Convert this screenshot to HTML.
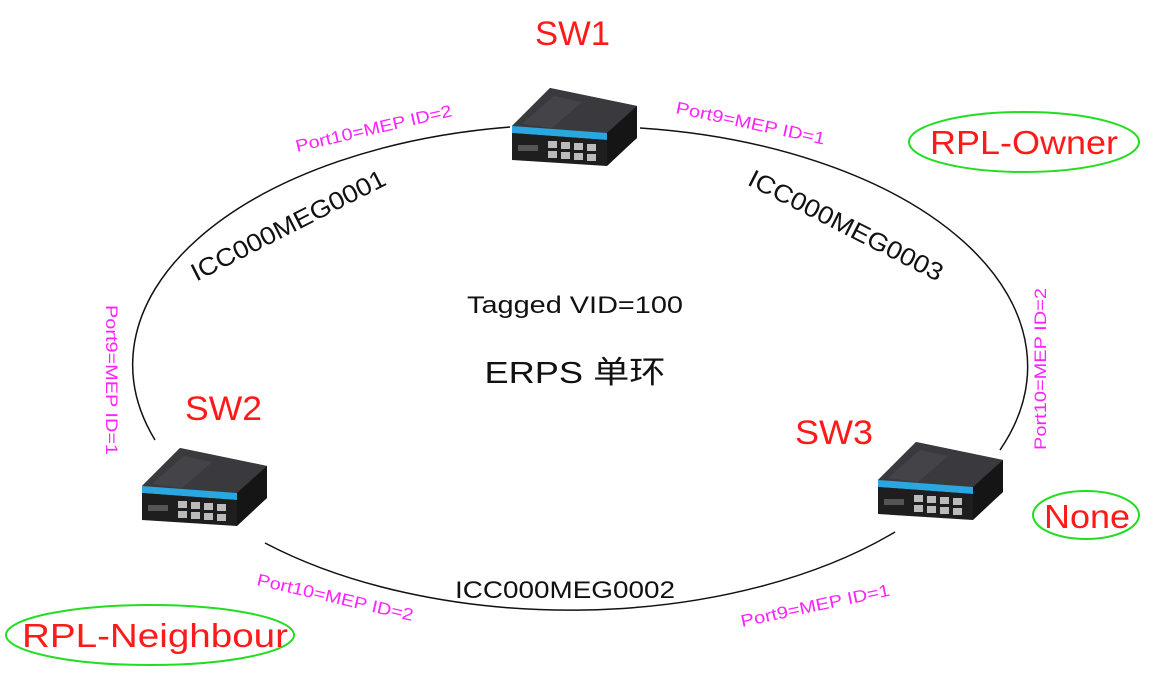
<!DOCTYPE html>
<html><head><meta charset="utf-8"><style>
html,body{margin:0;padding:0;background:#fff;}
body{width:1160px;height:696px;overflow:hidden;position:relative;font-family:"Liberation Sans","Noto Sans CJK SC",sans-serif;}
</style></head><body>
<svg width="1160" height="696" viewBox="0 0 1160 696" xmlns="http://www.w3.org/2000/svg" style="position:absolute;left:0;top:0">
<defs>
<g id="sw">
  <polygon points="0,38 38,0 125,18 125,50 95,76 0,68" fill="#2a2a2a"/>
  <polygon points="0,38 38,0 125,18 95,45" fill="#3a3a3e"/>
  <polygon points="10,36 42,8 70,14 40,40" fill="#4a4a50" opacity="0.6"/>
  <polygon points="0,38 95,45 95,52 0,45" fill="#2aa7e0"/>
  <polygon points="0,45 95,52 95,78 0,72" fill="#1e1e1e"/>
  <polygon points="95,45 125,18 125,50 95,78" fill="#151515"/>
  <g fill="#bbb">
    <rect x="36" y="53" width="9" height="7"/><rect x="49" y="54" width="9" height="7"/><rect x="62" y="55" width="9" height="7"/><rect x="75" y="56" width="9" height="7"/>
    <rect x="36" y="63" width="9" height="7"/><rect x="49" y="64" width="9" height="7"/><rect x="62" y="65" width="9" height="7"/><rect x="75" y="66" width="9" height="7"/>
  </g>
  <rect x="6" y="57" width="20" height="6" fill="#555"/>
</g>
</defs>
<g fill="none" stroke="#111" stroke-width="1.5">
  <path d="M510,127 A440,240 0 0 0 155,440"/>
  <path d="M640,128 A440,240 0 0 1 1000,450"/>
  <path d="M265,543 A440,240 0 0 0 895,532"/>
</g>
<use href="#sw" x="512" y="88"/>
<use href="#sw" x="142" y="448"/>
<use href="#sw" x="878" y="442"/>
<g fill="#ff1a1a" font-size="34">
  <text x="535" y="45" textLength="75" lengthAdjust="spacingAndGlyphs">SW1</text>
  <text x="185" y="420" textLength="77" lengthAdjust="spacingAndGlyphs">SW2</text>
  <text x="795" y="444" textLength="78" lengthAdjust="spacingAndGlyphs">SW3</text>
</g>
<g fill="none" stroke="#22dd22" stroke-width="2">
  <ellipse cx="1024" cy="142" rx="115" ry="30"/>
  <ellipse cx="1086" cy="515" rx="53" ry="24"/>
  <ellipse cx="150" cy="635" rx="144" ry="30"/>
</g>
<g fill="#ff1a1a" font-size="33">
  <text x="930" y="154" textLength="188" lengthAdjust="spacingAndGlyphs">RPL-Owner</text>
  <text x="1044" y="528" textLength="86" lengthAdjust="spacingAndGlyphs">None</text>
  <text x="22" y="647" textLength="266" lengthAdjust="spacingAndGlyphs">RPL-Neighbour</text>
</g>
<g fill="#ff22ff" font-size="17">
  <text transform="translate(297,152) rotate(-13)" textLength="160" lengthAdjust="spacingAndGlyphs">Port10=MEP ID=2</text>
  <text transform="translate(675,113) rotate(12)" textLength="152" lengthAdjust="spacingAndGlyphs">Port9=MEP ID=1</text>
  <text transform="translate(106,305) rotate(90)" textLength="150" lengthAdjust="spacingAndGlyphs">Port9=MEP ID=1</text>
  <text transform="translate(1046,450) rotate(-90)" textLength="162" lengthAdjust="spacingAndGlyphs">Port10=MEP ID=2</text>
  <text transform="translate(256,585) rotate(13)" textLength="160" lengthAdjust="spacingAndGlyphs">Port10=MEP ID=2</text>
  <text transform="translate(742,627) rotate(-12)" textLength="152" lengthAdjust="spacingAndGlyphs">Port9=MEP ID=1</text>
</g>
<g fill="#111" font-size="25" text-anchor="middle">
  <text transform="translate(292,233) rotate(-27)" textLength="215" lengthAdjust="spacingAndGlyphs">ICC000MEG0001</text>
  <text transform="translate(842,233) rotate(27)" textLength="215" lengthAdjust="spacingAndGlyphs">ICC000MEG0003</text>
  <text x="565" y="598" font-size="24" textLength="220" lengthAdjust="spacingAndGlyphs">ICC000MEG0002</text>
  <text x="575" y="313" font-size="24" textLength="216" lengthAdjust="spacingAndGlyphs">Tagged VID=100</text>
  <text x="575" y="383" font-size="31" textLength="181" lengthAdjust="spacingAndGlyphs">ERPS 单环</text>
</g>
</svg>
</body></html>
